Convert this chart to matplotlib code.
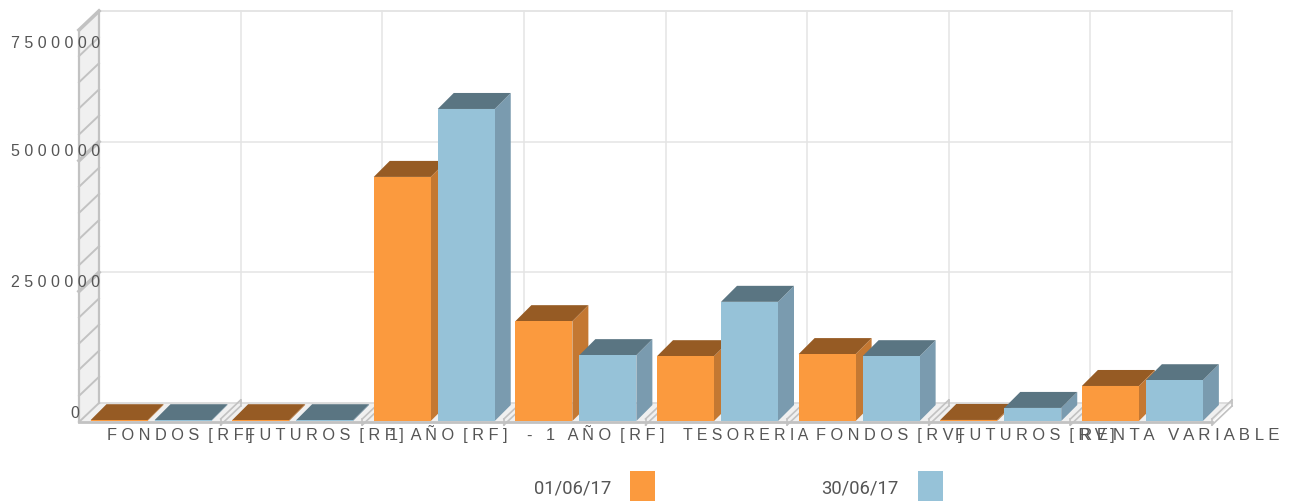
import matplotlib
matplotlib.use('Agg')
import matplotlib.pyplot as plt
from matplotlib.patches import Polygon, Rectangle

plt.rcParams['font.family'] = ['Liberation Sans', 'DejaVu Sans']

# Datos
categorias = ['F O N D O S  [ R F ]', 'F U T U R O S  [ R F ]', '1   A Ñ O  [ R F ]',
              '-   1   A Ñ O  [ R F ]', 'T E S O R E R I A', 'F O N D O S  [ R V ]',
              'F U T U R O S  [ R V ]', 'R E N T A   V A R I A B L E']
serie_a = [15000, 15000, 4670000, 1910000, 1240000, 1280000, 20000, 670000]
serie_b = [15000, 15000, 5970000, 1260000, 2280000, 1240000, 250000, 780000]
nombres = ['01/06/17', '30/06/17']
ticks_y = [0, 2500000, 5000000, 7500000]
etiquetas_y = ['0', '2 5 0 0 0 0 0', '5 0 0 0 0 0 0', '7 5 0 0 0 0 0']

# Inicio en pixeles y tamano de cada etiqueta del eje x
inicio_x = [107, 245, 389, 527, 683, 816, 955, 1080]
tamanos_x = [11.8, 11.8, 11.8, 11.8, 11.4, 11.8, 11.8, 12.2]

ANCHO, ALTO = 1290, 502
X0, X1 = 79, 1212      # plano frontal
Y0, Y1 = 423, 31
VMAX = 7500000
n = len(categorias)

fig = plt.figure(figsize=(ANCHO / 100, ALTO / 100), dpi=100)
ax = fig.add_axes([X0 / ANCHO, 1 - Y0 / ALTO, (X1 - X0) / ANCHO, (Y0 - Y1) / ALTO])
ax.set_xlim(0, n)
ax.set_ylim(0, VMAX)
ax.axis('off')

# pixeles -> unidades de datos
px = n / (X1 - X0)
py = VMAX / (Y0 - Y1)
PROF_X, PROF_Y = 20 * px, 19 * py   # fondo de la pared
GRIS = '#c2c2c2'
REJILLA = '#e4e4e4'


def poli(puntos, color, z, borde='none', lw=0):
    ax.add_patch(Polygon(puntos, closed=True, facecolor=color, edgecolor=borde,
                         linewidth=lw, zorder=z, clip_on=False))


# Pared izquierda y suelo
poli([(0, 0), (PROF_X, PROF_Y), (PROF_X, VMAX + PROF_Y), (0, VMAX)], '#f0f0f0', 1)
poli([(0, 0), (n, 0), (n + PROF_X, PROF_Y), (PROF_X, PROF_Y)], '#f0f0f0', 1)

# Rejilla del fondo
for v in ticks_y[1:] + [VMAX]:
    ax.plot([PROF_X, n + PROF_X], [v + PROF_Y] * 2, color=REJILLA, lw=1.1, zorder=1, clip_on=False)
for i in range(1, n + 1):
    ax.plot([i + PROF_X] * 2, [PROF_Y, VMAX + PROF_Y], color=REJILLA, lw=1.1, zorder=1, clip_on=False)
ax.plot([PROF_X, n + PROF_X], [PROF_Y, PROF_Y], color='#d8d8d8', lw=1.2, zorder=2, clip_on=False)

# Diagonales de la pared cada 500000
for k in range(0, 16):
    v = k * 500000
    grueso = 2.6 if k % 5 == 0 and k > 0 else 1.4
    ax.plot([0, PROF_X], [v, v + PROF_Y], color=GRIS, lw=grueso, zorder=2, clip_on=False)
ax.plot([0, 0], [0, VMAX], color=GRIS, lw=1.6, zorder=2, clip_on=False)
ax.plot([PROF_X, PROF_X], [PROF_Y, VMAX + PROF_Y], color=GRIS, lw=1.6, zorder=2, clip_on=False)

# Suelo: borde frontal y separadores dobles
ax.plot([0, n], [0, 0], color=GRIS, lw=2, zorder=2, clip_on=False)
for i in range(1, n + 1):
    for d in (-3 * py, 3 * py):
        ax.plot([i, i + PROF_X], [d, d + PROF_Y], color=GRIS, lw=1.2, zorder=2, clip_on=False)
    ax.plot([i, i], [-3 * py, 3 * py], color=GRIS, lw=1.2, zorder=2, clip_on=False)
    ax.plot([i + PROF_X] * 2, [PROF_Y - 3 * py, PROF_Y + 3 * py], color=GRIS, lw=1.2, zorder=2, clip_on=False)

# Barras
ANCHO_BARRA = 57 * px
MARGEN = 8 * px
HUECO = 7 * px
DX, DY = 16 * px, 16 * py
BASE = 1 * py
ESTILOS = [('#fb9a3e', '#965b24', '#c47832'), ('#96c2d8', '#5a7582', '#7a9baf')]

z = 3
for i in range(n):
    for s, valores in enumerate((serie_a, serie_b)):
        frente, arriba, lado = ESTILOS[s]
        x = i + MARGEN + 4 * px + s * (ANCHO_BARRA + HUECO) - 0.5 * px
        y = valores[i] + BASE
        poli([(x + ANCHO_BARRA, BASE), (x + ANCHO_BARRA + DX, BASE + DY),
              (x + ANCHO_BARRA + DX, y + DY), (x + ANCHO_BARRA, y)], lado, z)
        poli([(x, y), (x + ANCHO_BARRA, y), (x + ANCHO_BARRA + DX, y + DY), (x + DX, y + DY)], arriba, z)
        ax.bar(x, valores[i], ANCHO_BARRA, bottom=BASE, align='edge', color=frente, zorder=z, clip_on=False)
        z += 1

# Textos (coordenadas de figura en pixeles)
COLOR_TEXTO = '#555555'


def texto(x, y, s, **kw):
    fig.text(x / ANCHO, 1 - y / ALTO, s, color=COLOR_TEXTO, va='baseline', **kw)


for s, x, t in zip(categorias, inicio_x, tamanos_x):
    texto(x, 440, s, ha='left', fontsize=t)
for s, y in zip(etiquetas_y, [418, 287, 156, 48]):
    texto(100 if s != '0' else 79, y, s, ha='right', fontsize=11.5)

# Leyenda
for nombre, color, xt, xc in zip(nombres, ['#fb9a3e', '#96c2d8'], [534, 821], [630, 918]):
    fig.text(xt / ANCHO, 1 - 494 / ALTO, nombre, color=COLOR_TEXTO, va='baseline', ha='left',
             fontsize=13.2, family=['Roboto', 'DejaVu Sans'])
    fig.add_artist(Rectangle((xc / ANCHO, 0), 25 / ANCHO, 30 / ALTO, transform=fig.transFigure,
                             facecolor=color, edgecolor='none'))

fig.savefig('out.png', dpi=100)
